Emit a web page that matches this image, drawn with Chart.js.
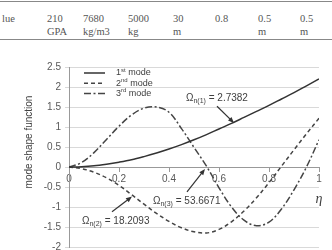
<!DOCTYPE html>
<html>
<head>
<meta charset="utf-8">
<script src="https://cdn.jsdelivr.net/npm/chart.js@4.4.1/dist/chart.umd.min.js"></script>
<style>
  html, body { margin: 0; padding: 0; background: #fff; }
  #wrap { position: relative; width: 332px; height: 250px; overflow: hidden; }
  #chart { position: absolute; left: 0; top: 0; }
  .rule { position: absolute; left: 0; width: 332px; height: 0; border-top: 1px solid #888; }
  .cell { position: absolute; font: 10.5px "Liberation Serif", serif; color: #555; line-height: 13px; white-space: pre; }
</style>
</head>
<body>
<div id="wrap">
  <div class="rule" style="top:1px"></div>
  <div class="rule" style="top:39px"></div>
  <div id="table"></div>
  <canvas id="chart" width="332" height="250"></canvas>
</div>
<script>
// table strip above the chart (cut off in the reference)
const tableTop = ["lue", "210", "7680", "5000", "30", "0.8", "0.5", "0.5"];
const tableBottom = ["", "GPA", "kg/m3", "kg", "m", "", "m", "m"];
const tableX = [2, 47, 83, 128, 173, 215, 258, 300];

// chart data
const eta = [0, 0.05, 0.1, 0.15, 0.2, 0.25, 0.3, 0.35, 0.4, 0.45, 0.5,
             0.55, 0.6, 0.65, 0.7, 0.75, 0.8, 0.85, 0.9, 0.95, 1];
const mode1 = [0, 0.008, 0.03, 0.07, 0.12, 0.18, 0.26, 0.35, 0.45, 0.56, 0.68,
               0.81, 0.95, 1.09, 1.24, 1.39, 1.54, 1.70, 1.86, 2.03, 2.2];
const mode2 = [0, -0.04, -0.13, -0.27, -0.46, -0.69, -0.93, -1.16, -1.36, -1.52, -1.62,
               -1.65, -1.56, -1.37, -1.10, -0.77, -0.39, 0.02, 0.43, 0.83, 1.22];
const mode3 = [0, 0.11, 0.36, 0.69, 1.02, 1.30, 1.47, 1.50, 1.37, 0.96, 0.49,
               0.02, -0.52, -1.00, -1.33, -1.47, -1.38, -1.05, -0.57, 0.0, 0.68];
const seriesNames = [["1", "st", " mode"], ["2", "nd", " mode"], ["3", "rd", " mode"]];
const xTickValues = [0, 0.2, 0.4, 0.6, 0.8, 1];
const xTickLabels = ["0", "0.2", "0.4", "0.6", "0.8", "1"];
const yTickValues = [-2, -1.5, -1, -0.5, 0, 0.5, 1, 1.5, 2, 2.5];
const yTickLabels = ["-2", "-1.5", "-1", "-0.5", "0", "0.5", "1", "1.5", "2", "2.5"];
const yTitle = "mode shape function";
const xTitle = "η";

// frequency labels: [sub, value, text anchor (eta, y), arrow from, arrow to]
const omegaLabels = [
  { sub: "n(1)", value: " = 2.7382", at: [0.468, 1.72], from: [0.592, 1.52], to: [0.66, 1.1] },
  { sub: "n(2)", value: " = 18.2093", at: [0.052, -1.35], from: [0.172, -1.12], to: [0.252, -0.74] },
  { sub: "n(3)", value: " = 53.6671", at: [0.336, -0.85], from: [0.472, -0.62], to: [0.544, -0.05] }
];

const tbl = document.getElementById("table");
tableTop.forEach((t, i) => {
  const d = document.createElement("div");
  d.className = "cell";
  d.style.left = tableX[i] + "px";
  d.style.top = "12px";
  d.textContent = tableBottom[i] ? t + "\n" + tableBottom[i] : t;
  tbl.appendChild(d);
});

const FONT = '"Liberation Sans", Arial, sans-serif';
const INK = "#404040";

function pts(ys) {
  return eta.map((x, i) => ({ x: x, y: ys[i] }));
}

function arrow(ctx, x1, y1, x2, y2) {
  const a = Math.atan2(y2 - y1, x2 - x1);
  ctx.beginPath();
  ctx.moveTo(x1, y1);
  ctx.lineTo(x2 - 4 * Math.cos(a), y2 - 4 * Math.sin(a));
  ctx.stroke();
  ctx.beginPath();
  ctx.moveTo(x2, y2);
  ctx.lineTo(x2 - 6 * Math.cos(a) + 2.5 * Math.sin(a), y2 - 6 * Math.sin(a) - 2.5 * Math.cos(a));
  ctx.lineTo(x2 - 6 * Math.cos(a) - 2.5 * Math.sin(a), y2 - 6 * Math.sin(a) + 2.5 * Math.cos(a));
  ctx.closePath();
  ctx.fill();
}

const extras = {
  id: "extras",
  afterDatasetsDraw(chart) {
    const ctx = chart.ctx;
    const xs = chart.scales.x, ys = chart.scales.y;
    const area = chart.chartArea;
    ctx.save();

    // legend inside the plot
    chart.data.datasets.forEach((ds, i) => {
      const rowY = area.top + 6 + i * 10.3;
      ctx.strokeStyle = ds.borderColor;
      ctx.lineWidth = ds.borderWidth;
      ctx.setLineDash(ds.borderDash || []);
      ctx.beginPath();
      ctx.moveTo(area.left + 15, rowY);
      ctx.lineTo(area.left + 36, rowY);
      ctx.stroke();
      ctx.setLineDash([]);
      const n = seriesNames[i];
      let tx = area.left + 47;
      ctx.fillStyle = INK;
      ctx.textBaseline = "middle";
      ctx.textAlign = "left";
      ctx.font = "9px " + FONT;
      ctx.fillText(n[0], tx, rowY);
      tx += ctx.measureText(n[0]).width;
      ctx.font = "6px " + FONT;
      ctx.fillText(n[1], tx, rowY - 3);
      tx += ctx.measureText(n[1]).width;
      ctx.font = "9px " + FONT;
      ctx.fillText(n[2], tx, rowY);
    });

    // omega labels with arrows
    omegaLabels.forEach(l => {
      let tx = xs.getPixelForValue(l.at[0]);
      const ty = ys.getPixelForValue(l.at[1]);
      ctx.fillStyle = INK;
      ctx.textBaseline = "middle";
      ctx.font = "10px " + FONT;
      ctx.fillText("Ω", tx, ty);
      tx += ctx.measureText("Ω").width;
      ctx.font = "7px " + FONT;
      ctx.fillText(l.sub, tx, ty + 3);
      tx += ctx.measureText(l.sub).width;
      ctx.font = "10px " + FONT;
      ctx.fillText(l.value, tx, ty);
      ctx.strokeStyle = "#333";
      ctx.fillStyle = "#333";
      ctx.lineWidth = 1.2;
      arrow(ctx, xs.getPixelForValue(l.from[0]), ys.getPixelForValue(l.from[1]),
                 xs.getPixelForValue(l.to[0]), ys.getPixelForValue(l.to[1]));
    });

    // axis titles
    ctx.fillStyle = INK;
    ctx.font = "italic 14px \"Liberation Serif\", serif";
    ctx.textAlign = "center";
    ctx.fillText(xTitle, xs.getPixelForValue(1), ys.getPixelForValue(-0.82));
    ctx.translate(29, 142);
    ctx.rotate(-Math.PI / 2);
    ctx.font = "10px " + FONT;
    ctx.fillText(yTitle, 0, 0);
    ctx.restore();
  }
};

new Chart(document.getElementById("chart"), {
  type: "line",
  data: {
    datasets: [
      { label: "1st mode", data: pts(mode1), borderColor: "#333", borderWidth: 1.5, borderDash: [] },
      { label: "2nd mode", data: pts(mode2), borderColor: "#444", borderWidth: 1.5, borderDash: [4, 3] },
      { label: "3rd mode", data: pts(mode3), borderColor: "#444", borderWidth: 1.5, borderDash: [7, 2.5, 2, 2.5] }
    ]
  },
  options: {
    responsive: false,
    animation: false,
    layout: { padding: { left: 0, right: 13, top: 67, bottom: 3 } },
    elements: { point: { radius: 0 }, line: { tension: 0.35 } },
    plugins: { legend: { display: false }, tooltip: { enabled: false } },
    scales: {
      x: {
        type: "linear", min: 0, max: 1, position: { y: 0 },
        afterBuildTicks: s => { s.ticks = xTickValues.map(v => ({ value: v })); },
        afterFit: s => { s.height = 0; },
        ticks: {
          callback: (v, i) => xTickLabels[i], autoSkip: false, maxRotation: 0,
          color: "#595959", font: { family: FONT, size: 10 }, padding: 2
        },
        grid: { drawOnChartArea: false, tickLength: 4, color: "#999" },
        border: { color: "#999" }
      },
      y: {
        type: "linear", min: -2, max: 2.5,
        afterBuildTicks: s => { s.ticks = yTickValues.map(v => ({ value: v })); },
        afterFit: s => { s.width = 69; s.paddingTop = 0; s.paddingBottom = 0; },
        ticks: {
          callback: (v, i) => yTickLabels[i],
          color: "#595959", font: { family: FONT, size: 10 }, padding: 4
        },
        grid: { color: "#d9d9d9", tickLength: 4 },
        border: { color: "#999" }
      }
    }
  },
  plugins: [extras]
});
</script>
</body>
</html>
